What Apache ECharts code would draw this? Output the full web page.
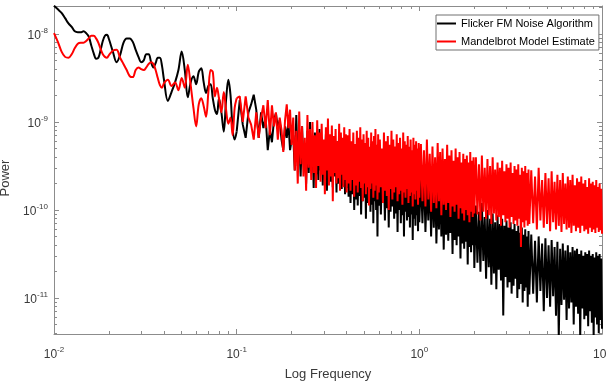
<!DOCTYPE html>
<html>
<head>
<meta charset="utf-8">
<script src="https://cdn.jsdelivr.net/npm/echarts@6/dist/echarts.min.js"></script>
<style>
  html, body { margin: 0; padding: 0; background: #fff; }
  #chart { width: 606px; height: 386px; }
</style>
</head>
<body>
<div id="chart"></div>
<script>
// series names
const nameBlack = 'Flicker FM Noise Algorithm';
const nameRed = 'Mandelbrot Model Estimate';

// frequency grids (Hz)
const freqLow = [0.01,0.0105,0.011,0.0115,0.012,0.0125,0.013,0.0135,0.014,0.0145,0.015,0.0155,0.016,0.0165,0.017,0.0175,0.018,0.0185,0.019,0.0195,0.02,
  0.021,0.022,0.023,0.024,0.025,0.026,0.027,0.028,0.029,0.03,0.031,0.032,0.033,0.034,0.035,0.036,0.037,0.038,0.039,0.04,
  0.042,0.044,0.046,0.048,0.05,0.052,0.054,0.056,0.058,0.06,0.062,0.064,0.066,0.068,0.07,0.072,0.074,0.076,0.078,0.08,
  0.0825,0.085,0.0875,0.09,0.0925,0.095,0.0975,0.1];
const freqMid = [0.1,0.104,0.108,0.112,0.116,0.12,0.124,0.128,0.132,0.136,0.14,0.144,0.148,0.152,0.156,0.16,0.164,0.168,0.172,0.176,0.18,0.184,0.188,0.192,0.196,0.2,
  0.204,0.208,0.212,0.216,0.22,0.224,0.228,0.232,0.236,0.24,0.244,0.248,0.252,0.256,0.26,0.264,0.268,0.272,0.276,0.28,0.284,0.288,0.292,0.296,
  0.3,0.304,0.308,0.312,0.316,0.32,0.324,0.328,0.332,0.336,0.34,0.344,0.348,0.352,0.356,0.36,0.364,0.368,0.372,0.376,0.38,0.384,0.388,0.392,0.396,0.4,
  0.405,0.41,0.415,0.42,0.425,0.43,0.435,0.44,0.445,0.45,0.455,0.46,0.465,0.47,0.475,0.48,0.485,0.49,0.495,0.5,
  0.505,0.51,0.515,0.52,0.525,0.53,0.535,0.54,0.545,0.55,0.555,0.56,0.565,0.57,0.575,0.58,0.585,0.59,0.595,0.6,
  0.608,0.616,0.624,0.632,0.64,0.648,0.656,0.664,0.672,0.68,0.688,0.696,0.704,0.712,0.72,0.728,0.736,0.744,0.752,0.76,0.768,0.776,0.784,0.792,0.8,
  0.808,0.816,0.824,0.832,0.84,0.848,0.856,0.864,0.872,0.88,0.888,0.896,0.904,0.912,0.92,0.928,0.936,0.944,0.952,0.96,0.968,0.976,0.984,0.992,1.0];
const freqHigh = [1.02,1.04,1.06,1.08,1.1,1.12,1.14,1.16,1.18,1.2,1.22,1.24,1.26,1.28,1.3,1.32,1.34,1.36,1.38,1.4,1.42,1.44,1.46,1.48,1.5,
  1.52,1.54,1.56,1.58,1.6,1.62,1.64,1.66,1.68,1.7,1.72,1.74,1.76,1.78,1.8,1.82,1.84,1.86,1.88,1.9,1.92,1.94,1.96,1.98,2.0,
  2.04,2.08,2.12,2.16,2.2,2.24,2.28,2.32,2.36,2.4,2.44,2.48,2.52,2.56,2.6,2.64,2.68,2.72,2.76,2.8,2.84,2.88,2.92,2.96,3.0,
  3.04,3.08,3.12,3.16,3.2,3.24,3.28,3.32,3.36,3.4,3.44,3.48,3.52,3.56,3.6,3.64,3.68,3.72,3.76,3.8,3.84,3.88,3.92,3.96,4.0,
  4.1,4.2,4.3,4.4,4.5,4.6,4.7,4.8,4.9,5.0,5.1,5.2,5.3,5.4,5.5,5.6,5.7,5.8,5.9,6.0,
  6.1,6.2,6.3,6.4,6.5,6.6,6.7,6.8,6.9,7.0,7.1,7.2,7.3,7.4,7.5,7.6,7.7,7.8,7.9,8.0,
  8.1,8.2,8.3,8.4,8.5,8.6,8.7,8.8,8.9,9.0,9.1,9.2,9.3,9.4,9.5,9.6,9.7,9.8,9.9,10.0];

// power, stored as log10(power)
const blackLow = [-7.68,-7.72,-7.76,-7.82,-7.88,-7.92,-7.97,-7.98,-7.98,-7.97,-7.99,-8.03,-8.13,-8.22,-8.28,-8.27,-8.18,-8.08,-8.02,-8.01,-8.06,
  -8.20,-8.32,-8.24,-8.10,-8.05,-8.05,-8.09,-8.18,-8.26,-8.32,-8.30,-8.23,-8.23,-8.32,-8.38,-8.33,-8.27,-8.27,-8.36,-8.52,
  -8.76,-8.66,-8.55,-8.41,-8.20,-8.41,-8.72,-8.55,-8.48,-8.57,-8.43,-8.39,-8.55,-8.67,-8.59,-8.57,-8.73,-8.86,-8.91,-8.73,
  -8.89,-9.11,-8.75,-8.52,-8.69,-9.07,-9.20,-9.11];
const redLow = [-7.99,-8.09,-8.20,-8.26,-8.27,-8.23,-8.16,-8.11,-8.10,-8.10,-8.08,-8.05,-8.02,-8.02,-8.05,-8.10,-8.17,-8.23,-8.26,-8.27,-8.24,
  -8.19,-8.18,-8.27,-8.34,-8.41,-8.48,-8.49,-8.41,-8.38,-8.40,-8.41,-8.38,-8.34,-8.32,-8.34,-8.41,-8.50,-8.58,-8.61,-8.56,
  -8.52,-8.59,-8.55,-8.64,-8.50,-8.61,-8.35,-8.58,-8.84,-9.05,-8.80,-8.73,-8.82,-8.94,-8.66,-8.41,-8.43,-8.71,-8.61,-8.73,
  -8.89,-8.66,-8.86,-9.02,-8.95,-9.15,-8.84,-8.73];

const blackMid = [-9.11,-8.75,-9.03,-9.18,-8.89,-8.80,-8.69,-8.86,-9.18,-8.89,-9.07,-8.95,-9.32,-9.09,-9.23,-8.98,-8.90,-9.07,-8.98,-9.20,-9.32,-9.05,-9.18,-9.00,-9.32,-9.20,
  -9.15,-9.55,-8.92,-9.50,-9.20,-9.62,-9.05,-9.48,-9.25,-9.70,-9.10,-9.58,-9.00,-9.52,-9.22,-9.75,-9.12,-9.60,-9.28,-9.66,
  -9.08,-9.55,-9.18,-9.72,-9.30,-9.62,-9.14,-9.78,-9.24,-9.58,-9.20,-9.68,-9.32,-9.74,-9.16,-9.62,-9.26,-9.80,-9.22,-9.70,
  -9.34,-9.66,-9.18,-9.76,-9.28,-9.72,-9.36,-9.82,-9.24,-9.75,
  -9.40,-9.85,-9.32,-9.92,-9.48,-9.82,-9.36,-10.00,-9.50,-9.88,-9.38,-9.95,-9.45,-9.84,-9.34,-10.05,-9.52,-9.90,-9.40,-9.86,
  -9.46,-10.10,-9.36,-9.92,-9.50,-9.88,-9.42,-10.02,-9.54,-9.94,-9.38,-10.15,-9.48,-9.90,-9.44,-10.00,-9.56,-10.30,-9.40,-9.95,
  -9.50,-10.05,-9.44,-9.92,-9.58,-10.12,-9.46,-9.98,-9.52,-10.20,-9.42,-10.02,-9.56,-9.96,-9.48,-10.10,-9.60,-10.04,-9.46,-10.25,
  -9.54,-10.00,-9.50,-10.15,-9.62,-10.06,-9.48,-10.30,-9.58,-10.02,-9.52,-10.12,-9.64,-10.08,-9.50,-10.20,-9.60,-10.05,-9.55,-10.34,
  -9.62,-10.10,-9.56,-10.18,-9.66,-10.06,-9.58,-10.24,-9.64,-10.14];
const redMid = [-8.73,-8.71,-9.00,-8.71,-8.95,-9.03,-9.20,-8.89,-9.18,-8.95,-8.81,-9.07,-8.75,-9.15,-8.81,-9.05,-8.89,-9.20,-8.95,-9.09,-9.34,-8.98,-8.80,-9.07,-8.86,-9.26,
  -8.95,-9.55,-9.10,-9.70,-8.88,-9.48,-9.05,-9.62,-9.18,-9.78,-8.92,-9.52,-9.08,-9.66,-9.00,-9.58,-9.15,-9.75,-8.98,-9.50,
  -9.12,-9.68,-9.02,-9.60,-9.20,-9.82,-9.06,-9.55,-8.96,-9.72,-9.14,-9.62,-9.04,-9.90,-9.16,-9.58,-9.08,-9.70,-9.22,-9.64,
  -9.02,-9.78,-9.12,-9.60,-9.18,-9.74,-9.06,-9.66,-9.14,-9.80,
  -9.15,-9.70,-9.08,-9.78,-9.22,-9.66,-9.12,-9.85,-9.25,-9.72,-9.10,-9.80,-9.18,-9.68,-9.06,-9.75,-9.20,-9.90,-9.14,-9.70,
  -9.24,-9.82,-9.10,-9.74,-9.18,-9.95,-9.28,-9.76,-9.12,-9.70,-9.22,-9.86,-9.16,-9.78,-9.08,-9.72,-9.26,-9.88,-9.14,-9.80,
  -9.20,-9.74,-9.30,-9.92,-9.12,-9.78,-9.22,-9.84,-9.16,-10.00,-9.26,-9.76,-9.10,-9.88,-9.20,-9.80,-9.28,-9.74,-9.14,-9.90,
  -9.24,-9.82,-9.18,-9.78,-9.30,-9.94,-9.12,-9.80,-9.22,-9.86,-9.26,-9.76,-9.16,-9.92,-9.28,-9.84,-9.20,-9.80,-9.32,-9.96,
  -9.18,-9.82,-9.26,-9.88,-9.22,-9.78,-9.30,-9.94,-9.24,-9.86];

const blackHigh = [-9.62,-10.15,-9.55,-10.25,-9.70,-10.12,-9.58,-10.30,-9.66,-10.20,-9.60,-10.38,-9.74,-10.22,-9.64,-10.30,-9.70,-10.45,-9.66,-10.28,
  -9.76,-10.35,-9.68,-10.26,-9.80,-10.50,-9.72,-10.34,-9.78,-10.40,-9.70,-10.30,-9.84,-10.55,-9.76,-10.38,-9.82,-10.44,-9.74,-10.36,
  -9.86,-10.62,-9.80,-10.42,-9.88,-10.48,-9.82,-10.40,-9.90,-10.66,
  -9.95,-10.60,-10.02,-10.70,-9.92,-10.58,-10.08,-10.78,-10.00,-10.65,-10.10,-10.85,-10.04,-10.72,-10.14,-10.90,-10.06,-10.68,-10.16,-10.80,
  -10.10,-11.20,-10.18,-10.76,-10.12,-10.88,-10.20,-10.82,-10.14,-10.95,-10.22,-10.86,-10.16,-10.78,-10.24,-11.00,-10.18,-10.90,-10.26,-10.84,
  -10.20,-11.05,-10.28,-10.92,-10.22,-10.88,-10.30,-11.10,-10.24,-10.96,
  -10.28,-10.95,-10.35,-11.05,-10.30,-10.92,-10.38,-11.15,-10.32,-11.00,-10.40,-11.10,-10.34,-10.98,-10.42,-11.20,-10.36,-11.45,-10.44,-11.08,
  -10.38,-11.02,-10.46,-11.25,-10.40,-11.12,-10.48,-11.05,-10.42,-11.30,-10.46,-11.10,-10.44,-11.18,-10.50,-11.45,-10.46,-11.12,-10.52,-11.24,
  -10.48,-11.20,-10.50,-11.32,-10.46,-11.15,-10.52,-11.28,-10.50,-11.45,-10.54,-11.22,-10.48,-11.30,-10.52,-11.40,-10.50,-11.25,-10.55,-11.35];
const redHigh = [-9.25,-9.90,-9.32,-9.96,-9.20,-9.88,-9.36,-10.02,-9.28,-9.92,-9.40,-9.98,-9.24,-9.90,-9.34,-10.06,-9.30,-9.94,-9.42,-10.00,
  -9.26,-9.92,-9.38,-10.08,-9.32,-9.96,-9.44,-10.02,-9.30,-9.94,-9.40,-10.10,-9.34,-9.98,-9.46,-10.04,-9.36,-10.12,-9.42,-10.00,
  -9.38,-10.06,-9.46,-10.14,-9.34,-10.02,-9.44,-10.08,-9.40,-10.04,
  -9.40,-10.05,-9.48,-10.12,-9.38,-10.02,-9.52,-10.10,-9.42,-10.06,-9.50,-10.16,-9.40,-10.04,-9.54,-10.12,-9.46,-10.08,-9.52,-10.18,
  -9.44,-10.06,-9.56,-10.14,-9.48,-10.10,-9.52,-10.20,-9.46,-10.08,-9.58,-10.16,-9.50,-10.12,-9.54,-10.18,-9.48,-10.10,-9.60,-10.42,
  -9.52,-10.14,-9.56,-10.20,-9.50,-10.12,-9.58,-10.18,-9.54,-10.16,
  -9.55,-10.15,-9.62,-10.22,-9.52,-10.12,-9.66,-10.20,-9.58,-10.16,-9.64,-10.24,-9.56,-10.14,-9.68,-10.22,-9.60,-10.18,-9.66,-10.25,
  -9.58,-10.16,-9.70,-10.22,-9.62,-10.20,-9.66,-10.26,-9.60,-10.18,-9.72,-10.24,-9.64,-10.20,-9.68,-10.26,-9.62,-10.18,-9.70,-10.24,
  -9.66,-10.22,-9.74,-10.27,-9.64,-10.20,-9.70,-10.25,-9.68,-10.22,-9.72,-10.26,-9.66,-10.20,-9.74,-10.25,-9.70,-10.23,-9.76,-10.27];

// axis ranges and tick labels
const xMin = 0.01, xMax = 10;
const yMin = 3.9e-12, yMax = 2.08e-8;
const xDecades = [-2, -1, 0, 1];
const yDecades = [-11, -10, -9, -8];

const font = 'Liberation Sans, Arial, sans-serif';
const axisGray = '#8c8c8c';

function toPoints(freq, logPower) {
  return freq.map((f, i) => [f, Math.pow(10, logPower[i])]);
}

// minor tick positions (log10 units), 2..9 inside each decade
function minorTicks(lo, hi) {
  const out = [];
  for (let d = Math.floor(lo); d < hi; d++) {
    for (let k = 2; k <= 9; k++) {
      const v = d + Math.log10(k);
      if (v > lo && v < hi) out.push(v);
    }
  }
  return out;
}

function powLabel(v) {
  const e = Math.log10(v);
  const r = Math.round(e);
  if (Math.abs(e - r) > 1e-6) return '';
  return '{b|10}{s|' + r + '}';
}

const labelRich = {
  b: { fontSize: 12, fontFamily: font, color: '#3a3a3a', verticalAlign: 'bottom', lineHeight: 14 },
  s: { fontSize: 8, fontFamily: font, color: '#3a3a3a', verticalAlign: 'bottom', padding: [0, 0, 7, 0] }
};

const lxMin = Math.log10(xMin), lxMax = Math.log10(xMax);
const lyMin = Math.log10(yMin), lyMax = Math.log10(yMax);

const chart = echarts.init(document.getElementById('chart'), null, { renderer: 'canvas' });

const lineStyle = (color) => ({ color: color, width: 2 });
const noLine = { show: false, onZero: false };
const boxLine = { show: true, onZero: false, lineStyle: { color: axisGray } };

const option = {
  animation: false,
  backgroundColor: '#fff',
  grid: { left: 54, right: 4, top: 6, bottom: 52, containLabel: false, outerBoundsMode: 'none' },
  legend: {
    left: 436, top: 15,
    orient: 'vertical',
    icon: 'rect',
    itemWidth: 19, itemHeight: 2,
    itemGap: 5,
    padding: [2, 4, 2, 1],
    backgroundColor: '#fff',
    borderColor: '#707070',
    borderWidth: 1,
    borderRadius: 0,
    textStyle: { fontFamily: font, fontSize: 11, color: '#000', lineHeight: 13 },
    data: [nameBlack, nameRed]
  },
  xAxis: [
    {
      type: 'log', logBase: 10, min: xMin, max: xMax, position: 'bottom',
      axisLine: boxLine,
      axisTick: { inside: true, length: 5, lineStyle: { color: axisGray } },
      splitLine: { show: false },
      axisLabel: { margin: 12, formatter: powLabel, rich: labelRich },
      name: 'Log Frequency', nameLocation: 'middle', nameGap: 34,
      nameTextStyle: { fontFamily: font, fontSize: 13, color: '#3a3a3a' }
    },
    {
      type: 'value', min: lxMin, max: lxMax, position: 'bottom',
      axisLine: noLine,
      axisTick: { inside: true, length: 3, lineStyle: { color: axisGray }, customValues: minorTicks(lxMin, lxMax) },
      axisLabel: { show: false }, splitLine: { show: false }
    },
    {
      type: 'value', min: lxMin, max: lxMax, position: 'top',
      axisLine: boxLine,
      axisTick: { inside: true, length: 5, lineStyle: { color: axisGray }, customValues: xDecades },
      axisLabel: { show: false }, splitLine: { show: false }
    },
    {
      type: 'value', min: lxMin, max: lxMax, position: 'top',
      axisLine: noLine,
      axisTick: { inside: true, length: 3, lineStyle: { color: axisGray }, customValues: minorTicks(lxMin, lxMax) },
      axisLabel: { show: false }, splitLine: { show: false }
    }
  ],
  yAxis: [
    {
      type: 'log', logBase: 10, min: yMin, max: yMax, position: 'left',
      axisLine: boxLine,
      axisTick: { show: true, inside: true, length: 5, lineStyle: { color: axisGray } },
      splitLine: { show: false },
      axisLabel: { margin: 6, formatter: powLabel, rich: labelRich, showMinLabel: false, showMaxLabel: false },
      name: 'Power', nameLocation: 'middle', nameGap: 36,
      nameTextStyle: { fontFamily: font, fontSize: 13, color: '#3a3a3a', padding: [0, 16, 0, 0] }
    },
    {
      type: 'value', min: lyMin, max: lyMax, position: 'left',
      axisLine: noLine,
      axisTick: { show: true, inside: true, length: 3, lineStyle: { color: axisGray }, customValues: minorTicks(lyMin, lyMax) },
      axisLabel: { show: false }, splitLine: { show: false }
    },
    {
      type: 'value', min: lyMin, max: lyMax, position: 'right',
      axisLine: boxLine,
      axisTick: { show: true, inside: true, length: 5, lineStyle: { color: axisGray }, customValues: yDecades },
      axisLabel: { show: false }, splitLine: { show: false }
    },
    {
      type: 'value', min: lyMin, max: lyMax, position: 'right',
      axisLine: noLine,
      axisTick: { show: true, inside: true, length: 3, lineStyle: { color: axisGray }, customValues: minorTicks(lyMin, lyMax) },
      axisLabel: { show: false }, splitLine: { show: false }
    }
  ],
  series: [
    {
      name: nameBlack, type: 'line', xAxisIndex: 0, yAxisIndex: 0,
      data: toPoints(freqLow, blackLow), smooth: 0.35,
      symbol: 'none', lineStyle: lineStyle('#000000'), itemStyle: { color: '#000000' }
    },
    {
      name: nameBlack, type: 'line', xAxisIndex: 0, yAxisIndex: 0,
      data: toPoints(freqMid.concat(freqHigh), blackMid.concat(blackHigh)),
      symbol: 'none', lineStyle: lineStyle('#000000'), itemStyle: { color: '#000000' }
    },
    {
      name: nameRed, type: 'line', xAxisIndex: 0, yAxisIndex: 0,
      data: toPoints(freqLow, redLow), smooth: 0.35,
      symbol: 'none', lineStyle: lineStyle('#ff0000'), itemStyle: { color: '#ff0000' }
    },
    {
      name: nameRed, type: 'line', xAxisIndex: 0, yAxisIndex: 0,
      data: toPoints(freqMid.concat(freqHigh), redMid.concat(redHigh)),
      symbol: 'none', lineStyle: lineStyle('#ff0000'), itemStyle: { color: '#ff0000' }
    }
  ]
};

chart.setOption(option);
</script>
</body>
</html>
